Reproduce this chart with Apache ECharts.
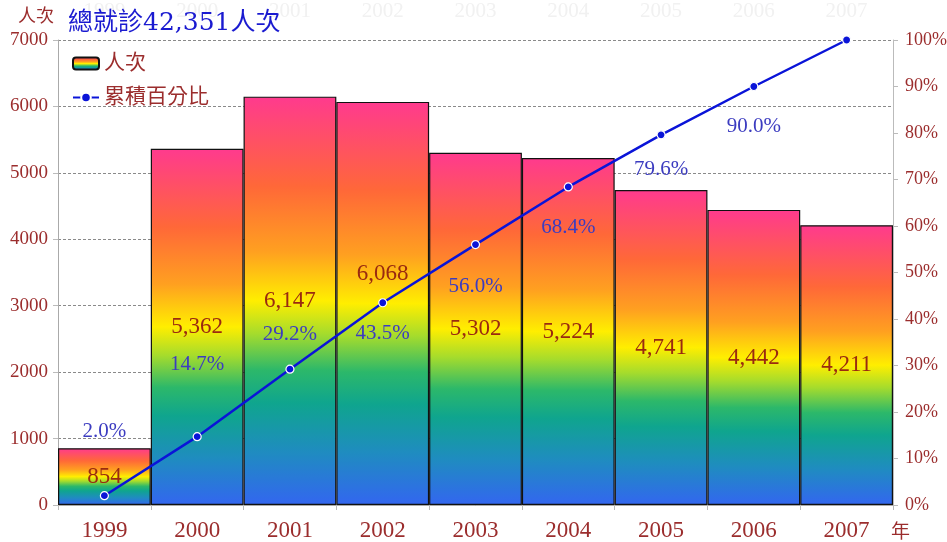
<!DOCTYPE html>
<html>
<head>
<meta charset="utf-8">
<script src="https://cdn.jsdelivr.net/npm/echarts@6/dist/echarts.min.js"></script>
<style>
  html, body { margin: 0; padding: 0; background: #ffffff; }
  #chart { width: 947px; height: 542px; }
</style>
</head>
<body>
<div id="chart"></div>
<script>
  // 資料
  const years = ['1999', '2000', '2001', '2002', '2003', '2004', '2005', '2006', '2007'];
  const visits = [854, 5362, 6147, 6068, 5302, 5224, 4741, 4442, 4211];
  const cumPercent = [2.0, 14.7, 29.2, 43.5, 56.0, 68.4, 79.6, 90.0, 100];
  const leftTicks = [0, 1000, 2000, 3000, 4000, 5000, 6000, 7000];
  const rightTicks = [0, 10, 20, 30, 40, 50, 60, 70, 80, 90, 100];
  const totalTitle = '總就診42,351人次';

  const RED = '#9b2d2d';
  const SERIF = '"Liberation Serif", "DejaVu Serif", "Noto Sans CJK TC", serif';

  // 每根柱子的彩虹漸層
  const rainbow = new echarts.graphic.LinearGradient(0, 0, 0, 1, [
    { offset: 0, color: '#ff3a8e' },
    { offset: 0.22, color: '#ff6838' },
    { offset: 0.38, color: '#ffa020' },
    { offset: 0.5, color: '#ffee00' },
    { offset: 0.58, color: '#a6dc2c' },
    { offset: 0.67, color: '#2cb86a' },
    { offset: 0.75, color: '#0fa58e' },
    { offset: 0.87, color: '#1f8cc0' },
    { offset: 1, color: '#3366f0' }
  ]);

  // 百分比標籤的位置微調
  const pctLabelPos = [
    { position: 'top', offset: [0, -44] },
    { position: 'top', offset: [0, -52] },
    { position: 'top', offset: [0, -15] },
    { position: 'bottom', offset: [0, 11] },
    { position: 'bottom', offset: [0, 22] },
    { position: 'bottom', offset: [0, 20] },
    { position: 'bottom', offset: [0, 15] },
    { position: 'bottom', offset: [0, 20] },
    { show: false }
  ];

  const myChart = echarts.init(document.getElementById('chart'));
  const option = {
    animation: false,
    backgroundColor: '#ffffff',
    title: {
      text: totalTitle,
      left: 63,
      top: 6,
      textStyle: {
        color: '#1a1ad0',
        fontSize: 25,
        fontWeight: 'normal',
        fontFamily: '"DejaVu Serif", "Noto Sans CJK TC", serif'
      }
    },
    legend: {
      orient: 'vertical',
      left: 67,
      top: 48,
      itemGap: 13,
      itemWidth: 26,
      itemHeight: 12,
      textStyle: { color: RED, fontSize: 21, fontFamily: SERIF },
      data: ['人次', '累積百分比']
    },
    grid: { left: 58, right: 54, top: 40, bottom: 37, outerBoundsMode: 'none', containLabel: false },
    xAxis: [
      {
        type: 'category',
        data: years,
        name: '年',
        nameLocation: 'end',
        nameGap: -2,
        nameTextStyle: { color: RED, fontSize: 19, fontFamily: SERIF, padding: [19, 0, 0, 0], verticalAlign: 'top' },
        axisLine: { lineStyle: { color: '#aaaaaa' } },
        axisTick: { show: true, length: 5, lineStyle: { color: '#bbbbbb' } },
        axisLabel: { color: RED, fontSize: 23, fontFamily: SERIF, margin: 14 }
      },
      {
        type: 'category',
        data: years,
        position: 'top',
        axisLine: { show: false },
        axisTick: { show: false },
        axisLabel: { color: '#f1f1f1', fontSize: 21, fontFamily: SERIF, margin: 18 }
      }
    ],
    yAxis: [
      {
        type: 'value',
        min: leftTicks[0],
        max: leftTicks[leftTicks.length - 1],
        interval: 1000,
        name: '人次',
        nameGap: 14,
        nameTextStyle: { color: RED, fontSize: 18, fontFamily: SERIF, align: 'right', padding: [0, 4, 0, 0] },
        axisLine: { show: true, lineStyle: { color: '#aaaaaa' } },
        axisTick: { show: true, length: 5, lineStyle: { color: '#bbbbbb' } },
        axisLabel: { color: RED, fontSize: 19, fontFamily: SERIF, margin: 10, formatter: v => String(v) },
        splitLine: { show: true, lineStyle: { color: '#8a8a8a', type: [3, 2], width: 1 } }
      },
      {
        type: 'value',
        min: rightTicks[0],
        max: rightTicks[rightTicks.length - 1],
        interval: 10,
        axisLine: { show: true, lineStyle: { color: '#bbbbbb' } },
        axisTick: { show: true, length: 5, lineStyle: { color: '#bbbbbb' } },
        axisLabel: { color: RED, fontSize: 18, fontFamily: SERIF, margin: 12, formatter: '{value}%' },
        splitLine: { show: false }
      }
    ],
    series: [
      {
        name: '人次',
        type: 'bar',
        xAxisIndex: 0,
        yAxisIndex: 0,
        barCategoryGap: '0%',
        itemStyle: { color: rainbow, borderColor: '#111111', borderWidth: 1.2 },
        label: {
          show: true,
          position: 'inside',
          color: '#9a2a10',
          fontSize: 23,
          fontFamily: SERIF,
          formatter: p => p.value.toLocaleString('en-US')
        },
        data: visits.map((v, i) => i === 3
          ? { value: v, label: { offset: [0, -30] } }
          : v)
      },
      {
        name: '累積百分比',
        type: 'line',
        xAxisIndex: 0,
        yAxisIndex: 1,
        symbol: 'circle',
        symbolSize: 8,
        lineStyle: { color: '#0a14d8', width: 2.5 },
        itemStyle: { color: '#0a14d8', borderColor: '#ffffff', borderWidth: 1.2 },
        label: {
          show: true,
          color: '#3c3cc0',
          fontSize: 21,
          fontFamily: SERIF,
          formatter: p => p.value.toFixed(1) + '%'
        },
        data: cumPercent.map((v, i) => ({ value: v, label: pctLabelPos[i] })),
        z: 5
      }
    ]
  };
  option && myChart.setOption(option);
</script>
</body>
</html>
